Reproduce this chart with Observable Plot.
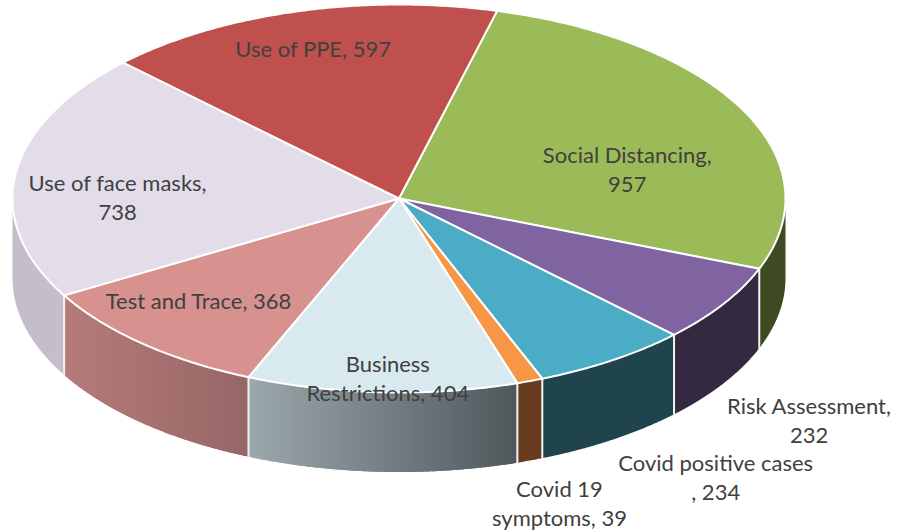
<!DOCTYPE html>
<html>
<head>
<meta charset="utf-8">
<style>html,body{margin:0;padding:0;background:#fff}svg{display:block}</style>
<script src="https://cdn.jsdelivr.net/npm/d3@7"></script>
<script src="https://cdn.jsdelivr.net/npm/@observablehq/plot@0.6"></script>
</head>
<body>
<div id="chart"></div>
<script>
// Data, clockwise from the Social Distancing slice
const categories = ["Social Distancing","Risk Assessment","Covid positive cases","Covid 19 symptoms","Business Restrictions","Test and Trace","Use of face masks","Use of PPE"];
const values = [957,232,234,39,404,368,738,597];
const labelTexts = ["Social Distancing,\n957","Risk Assessment,\n232","Covid positive cases\n, 234","Covid 19\nsymptoms, 39","Business\nRestrictions, 404","Test and Trace, 368","Use of face masks,\n738","Use of PPE, 597"];
const topColors = ["#9bbb59","#8064a2","#4bacc6","#f79646","#d8eaf0","#d79290","#e2dde9","#c0504d"];
const wallLeft  = ["#3e4a22","#332941","#1f444e","#663c1c","#9ba8ac","#b57c79","#c3bec9","#7a3230"];
const wallRight = ["#3e4a22","#332941","#1f444e","#663c1c","#50585c","#966666","#c3bec9","#7a3230"];
// Label placement relative to each slice's mid direction
const labelSpreadX = [.663,1.264,1.482,1.226,.65,.783,.734,.836];
const labelSpreadY = [.337,2.10,1.727,1.669,.928,.705,.039,.80];

// Pie geometry
const cx = 398.5, cy = 198, rx = 386.5, ry = 194, depth = 79.5;
const startDeg = 14.7;
const toRad = Math.PI / 180;
const px = a => cx + rx * Math.sin(a);
const py = a => cy - ry * Math.cos(a);

const arcs = d3.pie().sort(null).value(d => d)
  .startAngle(startDeg * toRad).endAngle((startDeg + 360) * toRad)(values);

function arcPts(a0, a1, step = 0.5 * toRad) {
  const n = Math.max(1, Math.ceil((a1 - a0) / step));
  return d3.range(n + 1).map(i => a0 + (a1 - a0) * i / n);
}

// Top wedges
const tops = arcs.flatMap((s, i) => {
  const pts = [[cx, cy], ...arcPts(s.startAngle, s.endAngle).map(a => [px(a), py(a)]), [cx, cy]];
  return pts.map(([x, y]) => ({x, y, id: i, color: topColors[i]}));
});

// Visible front wall; a shaded wall is split into strips across its width
const front0 = 90 * toRad, front1 = 270 * toRad;
const strips = [], seps = [];
function wallPoly(a0, a1, id, color) {
  const p = arcPts(a0, a1, 0.25 * toRad);
  const poly = [
    ...p.map(a => [px(a), py(a)]),
    ...p.slice().reverse().map(a => [px(a), py(a) + depth])
  ];
  poly.push(poly[0]);
  poly.forEach(([x, y]) => strips.push({x, y, id, color}));
}
arcs.forEach((s, i) => {
  const a0 = Math.max(s.startAngle, front0), a1 = Math.min(s.endAngle, front1);
  if (a1 <= a0) return;
  if (wallLeft[i] === wallRight[i]) {
    wallPoly(a0, a1, `${i}`, wallLeft[i]);
  } else {
    const xl = Math.min(px(a0), px(a1)), xr = Math.max(px(a0), px(a1));
    const ramp = d3.interpolateRgb(wallLeft[i], wallRight[i]);
    // painted from right to left (clockwise), each strip runs under the next
    const as = arcPts(a0, a1, 0.5 * toRad);
    for (let k = 0; k < as.length - 1; k++) {
      const t = ((px(as[k]) + px(as[k + 1])) / 2 - xl) / (xr - xl);
      wallPoly(as[k], as[Math.min(k + 2, as.length - 1)], `${i}-${k}`, ramp(t));
    }
  }
  if (s.startAngle > front0 && s.startAngle < front1) {
    const a = s.startAngle;
    seps.push({x: px(a), y: py(a), id: i}, {x: px(a), y: py(a) + depth, id: i});
  }
});

const labels = arcs.map((s, i) => {
  const mid = (s.startAngle + s.endAngle) / 2;
  return {
    text: labelTexts[i],
    x: cx + rx * labelSpreadX[i] * Math.sin(mid),
    y: cy - ry * labelSpreadY[i] * Math.cos(mid) - 1
  };
});

const chart = Plot.plot({
  width: 898, height: 532,
  margin: 0,
  x: {domain: [0, 898], range: [0, 898], axis: null},
  y: {domain: [0, 532], range: [0, 532], axis: null},
  color: {type: "identity"},
  style: {background: "#fff"},
  marks: [
    Plot.line(strips, {x: "x", y: "y", z: "id", fill: "color", strokeWidth: 0, stroke: "none", curve: "linear"}),
    Plot.line(seps, {x: "x", y: "y", z: "id", stroke: "#f2f2f2", strokeWidth: 2, curve: "linear"}),
    Plot.line(tops, {x: "x", y: "y", z: "id", fill: "color", stroke: "#fff", strokeWidth: 2, strokeLinejoin: "round", curve: "linear"}),
    Plot.text(labels, {x: "x", y: "y", text: "text", fill: "#404040", fontFamily: "Lato", fontSize: 22, lineHeight: 1.32, textAnchor: "middle"})
  ]
});
document.getElementById("chart").append(chart);
</script>
</body>
</html>
